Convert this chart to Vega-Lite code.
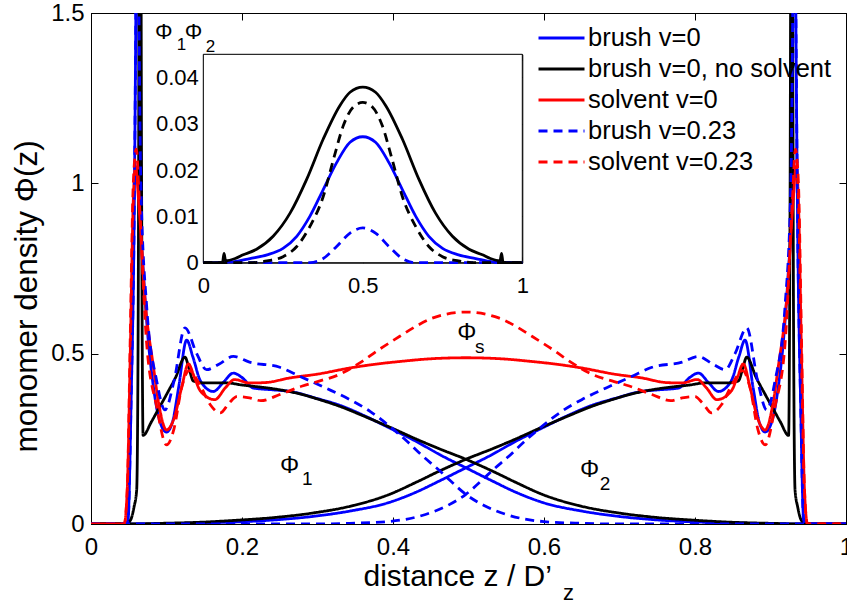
{
"$schema": "https://vega.github.io/schema/vega-lite/v6.json",
"width": 755, "height": 511,
"autosize": {"type": "none"},
"padding": {"left": 91, "top": 13, "right": 1, "bottom": 79},
"background": "white",
"datasets": {
"main": [
{"s":"brush v=0","p":"a","x":0,"y":0},{"s":"brush v=0","p":"a","x":0.046,"y":0},{"s":"brush v=0","p":"a","x":0.049,"y":0.01},{"s":"brush v=0","p":"a","x":0.053,"y":0.35},{"s":"brush v=0","p":"a","x":0.0574,"y":0.95},{"s":"brush v=0","p":"a","x":0.06,"y":1.7},{"s":"brush v=0","p":"a","x":0.0615,"y":2.3},{"s":"brush v=0","p":"a","x":0.063,"y":1.7},{"s":"brush v=0","p":"a","x":0.0649,"y":0.95},{"s":"brush v=0","p":"a","x":0.07,"y":0.72},{"s":"brush v=0","p":"a","x":0.075,"y":0.56},{"s":"brush v=0","p":"a","x":0.0826,"y":0.404},{"s":"brush v=0","p":"a","x":0.09,"y":0.31},{"s":"brush v=0","p":"a","x":0.1,"y":0.27},{"s":"brush v=0","p":"a","x":0.108,"y":0.3},{"s":"brush v=0","p":"a","x":0.116,"y":0.4},{"s":"brush v=0","p":"a","x":0.1267,"y":0.54},{"s":"brush v=0","p":"a","x":0.135,"y":0.49},{"s":"brush v=0","p":"a","x":0.145,"y":0.42},{"s":"brush v=0","p":"a","x":0.162,"y":0.389},{"s":"brush v=0","p":"a","x":0.175,"y":0.415},{"s":"brush v=0","p":"a","x":0.1885,"y":0.443},{"s":"brush v=0","p":"a","x":0.2,"y":0.43},{"s":"brush v=0","p":"a","x":0.215,"y":0.399},{"s":"brush v=0","p":"a","x":0.24,"y":0.394},{"s":"brush v=0","p":"a","x":0.2636,"y":0.389},{"s":"brush v=0","p":"a","x":0.3,"y":0.368},{"s":"brush v=0","p":"a","x":0.33,"y":0.348},{"s":"brush v=0","p":"a","x":0.36,"y":0.32},{"s":"brush v=0","p":"a","x":0.387,"y":0.291},{"s":"brush v=0","p":"a","x":0.431,"y":0.242},{"s":"brush v=0","p":"a","x":0.465,"y":0.2},{"s":"brush v=0","p":"a","x":0.4965,"y":0.165},{"s":"brush v=0","p":"a","x":0.53,"y":0.128},{"s":"brush v=0","p":"a","x":0.564,"y":0.092},{"s":"brush v=0","p":"a","x":0.6,"y":0.062},{"s":"brush v=0","p":"a","x":0.65,"y":0.038},{"s":"brush v=0","p":"a","x":0.7,"y":0.022},{"s":"brush v=0","p":"a","x":0.75,"y":0.012},{"s":"brush v=0","p":"a","x":0.8,"y":0.006},{"s":"brush v=0","p":"a","x":0.85,"y":0.003},{"s":"brush v=0","p":"a","x":0.9,"y":0.001},{"s":"brush v=0","p":"a","x":0.94,"y":0},{"s":"brush v=0","p":"a","x":1,"y":0},
{"s":"brush v=0","p":"b","x":0,"y":0},{"s":"brush v=0","p":"b","x":0.053,"y":0},{"s":"brush v=0","p":"b","x":0.093,"y":0.001},{"s":"brush v=0","p":"b","x":0.143,"y":0.003},{"s":"brush v=0","p":"b","x":0.193,"y":0.006},{"s":"brush v=0","p":"b","x":0.243,"y":0.012},{"s":"brush v=0","p":"b","x":0.293,"y":0.022},{"s":"brush v=0","p":"b","x":0.343,"y":0.038},{"s":"brush v=0","p":"b","x":0.393,"y":0.062},{"s":"brush v=0","p":"b","x":0.429,"y":0.092},{"s":"brush v=0","p":"b","x":0.463,"y":0.128},{"s":"brush v=0","p":"b","x":0.4965,"y":0.165},{"s":"brush v=0","p":"b","x":0.528,"y":0.2},{"s":"brush v=0","p":"b","x":0.562,"y":0.242},{"s":"brush v=0","p":"b","x":0.606,"y":0.291},{"s":"brush v=0","p":"b","x":0.633,"y":0.32},{"s":"brush v=0","p":"b","x":0.663,"y":0.348},{"s":"brush v=0","p":"b","x":0.693,"y":0.368},{"s":"brush v=0","p":"b","x":0.7294,"y":0.389},{"s":"brush v=0","p":"b","x":0.753,"y":0.394},{"s":"brush v=0","p":"b","x":0.778,"y":0.399},{"s":"brush v=0","p":"b","x":0.793,"y":0.43},{"s":"brush v=0","p":"b","x":0.8045,"y":0.443},{"s":"brush v=0","p":"b","x":0.818,"y":0.415},{"s":"brush v=0","p":"b","x":0.831,"y":0.389},{"s":"brush v=0","p":"b","x":0.848,"y":0.42},{"s":"brush v=0","p":"b","x":0.858,"y":0.49},{"s":"brush v=0","p":"b","x":0.8663,"y":0.54},{"s":"brush v=0","p":"b","x":0.877,"y":0.4},{"s":"brush v=0","p":"b","x":0.885,"y":0.3},{"s":"brush v=0","p":"b","x":0.893,"y":0.27},{"s":"brush v=0","p":"b","x":0.903,"y":0.31},{"s":"brush v=0","p":"b","x":0.9104,"y":0.404},{"s":"brush v=0","p":"b","x":0.918,"y":0.56},{"s":"brush v=0","p":"b","x":0.923,"y":0.72},{"s":"brush v=0","p":"b","x":0.9281,"y":0.95},{"s":"brush v=0","p":"b","x":0.93,"y":1.7},{"s":"brush v=0","p":"b","x":0.9315,"y":2.3},{"s":"brush v=0","p":"b","x":0.933,"y":1.7},{"s":"brush v=0","p":"b","x":0.9356,"y":0.95},{"s":"brush v=0","p":"b","x":0.94,"y":0.35},{"s":"brush v=0","p":"b","x":0.944,"y":0.01},{"s":"brush v=0","p":"b","x":0.947,"y":0},{"s":"brush v=0","p":"b","x":1,"y":0},
{"s":"brush v=0, no solvent","p":"a","x":0,"y":0},{"s":"brush v=0, no solvent","p":"a","x":0.046,"y":0},{"s":"brush v=0, no solvent","p":"a","x":0.052,"y":0.01},{"s":"brush v=0, no solvent","p":"a","x":0.057,"y":0.05},{"s":"brush v=0, no solvent","p":"a","x":0.0605,"y":0.1},{"s":"brush v=0, no solvent","p":"a","x":0.0625,"y":0.6},{"s":"brush v=0, no solvent","p":"a","x":0.064,"y":1.8},{"s":"brush v=0, no solvent","p":"a","x":0.0655,"y":2.2},{"s":"brush v=0, no solvent","p":"a","x":0.067,"y":1.0},{"s":"brush v=0, no solvent","p":"a","x":0.069,"y":0.26},{"s":"brush v=0, no solvent","p":"a","x":0.08,"y":0.3},{"s":"brush v=0, no solvent","p":"a","x":0.09,"y":0.34},{"s":"brush v=0, no solvent","p":"a","x":0.1,"y":0.38},{"s":"brush v=0, no solvent","p":"a","x":0.112,"y":0.43},{"s":"brush v=0, no solvent","p":"a","x":0.1245,"y":0.49},{"s":"brush v=0, no solvent","p":"a","x":0.13,"y":0.455},{"s":"brush v=0, no solvent","p":"a","x":0.1355,"y":0.42},{"s":"brush v=0, no solvent","p":"a","x":0.15,"y":0.414},{"s":"brush v=0, no solvent","p":"a","x":0.18,"y":0.414},{"s":"brush v=0, no solvent","p":"a","x":0.2,"y":0.408},{"s":"brush v=0, no solvent","p":"a","x":0.22,"y":0.403},{"s":"brush v=0, no solvent","p":"a","x":0.25,"y":0.394},{"s":"brush v=0, no solvent","p":"a","x":0.28,"y":0.38},{"s":"brush v=0, no solvent","p":"a","x":0.3,"y":0.367},{"s":"brush v=0, no solvent","p":"a","x":0.33,"y":0.345},{"s":"brush v=0, no solvent","p":"a","x":0.36,"y":0.318},{"s":"brush v=0, no solvent","p":"a","x":0.4,"y":0.28},{"s":"brush v=0, no solvent","p":"a","x":0.43,"y":0.25},{"s":"brush v=0, no solvent","p":"a","x":0.46,"y":0.222},{"s":"brush v=0, no solvent","p":"a","x":0.4965,"y":0.19},{"s":"brush v=0, no solvent","p":"a","x":0.53,"y":0.157},{"s":"brush v=0, no solvent","p":"a","x":0.56,"y":0.125},{"s":"brush v=0, no solvent","p":"a","x":0.6,"y":0.085},{"s":"brush v=0, no solvent","p":"a","x":0.65,"y":0.052},{"s":"brush v=0, no solvent","p":"a","x":0.7,"y":0.032},{"s":"brush v=0, no solvent","p":"a","x":0.75,"y":0.019},{"s":"brush v=0, no solvent","p":"a","x":0.8,"y":0.011},{"s":"brush v=0, no solvent","p":"a","x":0.85,"y":0.005},{"s":"brush v=0, no solvent","p":"a","x":0.9,"y":0.002},{"s":"brush v=0, no solvent","p":"a","x":0.94,"y":0},{"s":"brush v=0, no solvent","p":"a","x":1,"y":0},
{"s":"brush v=0, no solvent","p":"b","x":0,"y":0},{"s":"brush v=0, no solvent","p":"b","x":0.053,"y":0},{"s":"brush v=0, no solvent","p":"b","x":0.093,"y":0.002},{"s":"brush v=0, no solvent","p":"b","x":0.143,"y":0.005},{"s":"brush v=0, no solvent","p":"b","x":0.193,"y":0.011},{"s":"brush v=0, no solvent","p":"b","x":0.243,"y":0.019},{"s":"brush v=0, no solvent","p":"b","x":0.293,"y":0.032},{"s":"brush v=0, no solvent","p":"b","x":0.343,"y":0.052},{"s":"brush v=0, no solvent","p":"b","x":0.393,"y":0.085},{"s":"brush v=0, no solvent","p":"b","x":0.433,"y":0.125},{"s":"brush v=0, no solvent","p":"b","x":0.463,"y":0.157},{"s":"brush v=0, no solvent","p":"b","x":0.4965,"y":0.19},{"s":"brush v=0, no solvent","p":"b","x":0.533,"y":0.222},{"s":"brush v=0, no solvent","p":"b","x":0.563,"y":0.25},{"s":"brush v=0, no solvent","p":"b","x":0.593,"y":0.28},{"s":"brush v=0, no solvent","p":"b","x":0.633,"y":0.318},{"s":"brush v=0, no solvent","p":"b","x":0.663,"y":0.345},{"s":"brush v=0, no solvent","p":"b","x":0.693,"y":0.367},{"s":"brush v=0, no solvent","p":"b","x":0.713,"y":0.38},{"s":"brush v=0, no solvent","p":"b","x":0.743,"y":0.394},{"s":"brush v=0, no solvent","p":"b","x":0.773,"y":0.403},{"s":"brush v=0, no solvent","p":"b","x":0.793,"y":0.408},{"s":"brush v=0, no solvent","p":"b","x":0.813,"y":0.414},{"s":"brush v=0, no solvent","p":"b","x":0.843,"y":0.414},{"s":"brush v=0, no solvent","p":"b","x":0.8575,"y":0.42},{"s":"brush v=0, no solvent","p":"b","x":0.863,"y":0.455},{"s":"brush v=0, no solvent","p":"b","x":0.8685,"y":0.49},{"s":"brush v=0, no solvent","p":"b","x":0.881,"y":0.43},{"s":"brush v=0, no solvent","p":"b","x":0.893,"y":0.38},{"s":"brush v=0, no solvent","p":"b","x":0.903,"y":0.34},{"s":"brush v=0, no solvent","p":"b","x":0.913,"y":0.3},{"s":"brush v=0, no solvent","p":"b","x":0.924,"y":0.26},{"s":"brush v=0, no solvent","p":"b","x":0.926,"y":1.0},{"s":"brush v=0, no solvent","p":"b","x":0.9275,"y":2.2},{"s":"brush v=0, no solvent","p":"b","x":0.929,"y":1.8},{"s":"brush v=0, no solvent","p":"b","x":0.9305,"y":0.6},{"s":"brush v=0, no solvent","p":"b","x":0.9325,"y":0.1},{"s":"brush v=0, no solvent","p":"b","x":0.936,"y":0.05},{"s":"brush v=0, no solvent","p":"b","x":0.941,"y":0.01},{"s":"brush v=0, no solvent","p":"b","x":0.947,"y":0},{"s":"brush v=0, no solvent","p":"b","x":1,"y":0},
{"s":"solvent v=0","p":"s","x":0,"y":0},{"s":"solvent v=0","p":"s","x":0.044,"y":0},{"s":"solvent v=0","p":"s","x":0.048,"y":0.1},{"s":"solvent v=0","p":"s","x":0.052,"y":0.5},{"s":"solvent v=0","p":"s","x":0.056,"y":0.95},{"s":"solvent v=0","p":"s","x":0.059,"y":1.05},{"s":"solvent v=0","p":"s","x":0.063,"y":0.95},{"s":"solvent v=0","p":"s","x":0.0715,"y":0.66},{"s":"solvent v=0","p":"s","x":0.0826,"y":0.463},{"s":"solvent v=0","p":"s","x":0.09,"y":0.35},{"s":"solvent v=0","p":"s","x":0.1,"y":0.276},{"s":"solvent v=0","p":"s","x":0.11,"y":0.31},{"s":"solvent v=0","p":"s","x":0.12,"y":0.4},{"s":"solvent v=0","p":"s","x":0.129,"y":0.47},{"s":"solvent v=0","p":"s","x":0.137,"y":0.43},{"s":"solvent v=0","p":"s","x":0.145,"y":0.39},{"s":"solvent v=0","p":"s","x":0.164,"y":0.365},{"s":"solvent v=0","p":"s","x":0.178,"y":0.4},{"s":"solvent v=0","p":"s","x":0.19,"y":0.424},{"s":"solvent v=0","p":"s","x":0.21,"y":0.414},{"s":"solvent v=0","p":"s","x":0.23,"y":0.415},{"s":"solvent v=0","p":"s","x":0.264,"y":0.429},{"s":"solvent v=0","p":"s","x":0.3,"y":0.44},{"s":"solvent v=0","p":"s","x":0.343,"y":0.458},{"s":"solvent v=0","p":"s","x":0.38,"y":0.47},{"s":"solvent v=0","p":"s","x":0.409,"y":0.477},{"s":"solvent v=0","p":"s","x":0.45,"y":0.485},{"s":"solvent v=0","p":"s","x":0.4965,"y":0.488},{"s":"solvent v=0","p":"s","x":0.543,"y":0.485},{"s":"solvent v=0","p":"s","x":0.584,"y":0.477},{"s":"solvent v=0","p":"s","x":0.613,"y":0.47},{"s":"solvent v=0","p":"s","x":0.65,"y":0.458},{"s":"solvent v=0","p":"s","x":0.693,"y":0.44},{"s":"solvent v=0","p":"s","x":0.729,"y":0.429},{"s":"solvent v=0","p":"s","x":0.763,"y":0.415},{"s":"solvent v=0","p":"s","x":0.783,"y":0.414},{"s":"solvent v=0","p":"s","x":0.803,"y":0.424},{"s":"solvent v=0","p":"s","x":0.815,"y":0.4},{"s":"solvent v=0","p":"s","x":0.829,"y":0.365},{"s":"solvent v=0","p":"s","x":0.848,"y":0.39},{"s":"solvent v=0","p":"s","x":0.856,"y":0.43},{"s":"solvent v=0","p":"s","x":0.864,"y":0.47},{"s":"solvent v=0","p":"s","x":0.873,"y":0.4},{"s":"solvent v=0","p":"s","x":0.883,"y":0.31},{"s":"solvent v=0","p":"s","x":0.893,"y":0.276},{"s":"solvent v=0","p":"s","x":0.903,"y":0.35},{"s":"solvent v=0","p":"s","x":0.9104,"y":0.463},{"s":"solvent v=0","p":"s","x":0.9215,"y":0.66},{"s":"solvent v=0","p":"s","x":0.93,"y":0.95},{"s":"solvent v=0","p":"s","x":0.934,"y":1.05},{"s":"solvent v=0","p":"s","x":0.937,"y":0.95},{"s":"solvent v=0","p":"s","x":0.941,"y":0.5},{"s":"solvent v=0","p":"s","x":0.945,"y":0.1},{"s":"solvent v=0","p":"s","x":0.949,"y":0},{"s":"solvent v=0","p":"s","x":1,"y":0},
{"s":"brush v=0.23","p":"a","x":0,"y":0},{"s":"brush v=0.23","p":"a","x":0.046,"y":0},{"s":"brush v=0.23","p":"a","x":0.049,"y":0.01},{"s":"brush v=0.23","p":"a","x":0.053,"y":0.35},{"s":"brush v=0.23","p":"a","x":0.0574,"y":0.95},{"s":"brush v=0.23","p":"a","x":0.06,"y":1.7},{"s":"brush v=0.23","p":"a","x":0.0615,"y":2.3},{"s":"brush v=0.23","p":"a","x":0.063,"y":1.7},{"s":"brush v=0.23","p":"a","x":0.066,"y":1.0},{"s":"brush v=0.23","p":"a","x":0.0737,"y":0.64},{"s":"brush v=0.23","p":"a","x":0.087,"y":0.42},{"s":"brush v=0.23","p":"a","x":0.098,"y":0.335},{"s":"brush v=0.23","p":"a","x":0.11,"y":0.42},{"s":"brush v=0.23","p":"a","x":0.1245,"y":0.576},{"s":"brush v=0.23","p":"a","x":0.14,"y":0.5},{"s":"brush v=0.23","p":"a","x":0.153,"y":0.453},{"s":"brush v=0.23","p":"a","x":0.17,"y":0.47},{"s":"brush v=0.23","p":"a","x":0.1885,"y":0.492},{"s":"brush v=0.23","p":"a","x":0.21,"y":0.475},{"s":"brush v=0.23","p":"a","x":0.25,"y":0.46},{"s":"brush v=0.23","p":"a","x":0.277,"y":0.433},{"s":"brush v=0.23","p":"a","x":0.31,"y":0.4},{"s":"brush v=0.23","p":"a","x":0.343,"y":0.365},{"s":"brush v=0.23","p":"a","x":0.37,"y":0.33},{"s":"brush v=0.23","p":"a","x":0.396,"y":0.286},{"s":"brush v=0.23","p":"a","x":0.42,"y":0.24},{"s":"brush v=0.23","p":"a","x":0.44,"y":0.198},{"s":"brush v=0.23","p":"a","x":0.46,"y":0.16},{"s":"brush v=0.23","p":"a","x":0.475,"y":0.129},{"s":"brush v=0.23","p":"a","x":0.4965,"y":0.087},{"s":"brush v=0.23","p":"a","x":0.52,"y":0.055},{"s":"brush v=0.23","p":"a","x":0.55,"y":0.028},{"s":"brush v=0.23","p":"a","x":0.6,"y":0.007},{"s":"brush v=0.23","p":"a","x":0.65,"y":0.002},{"s":"brush v=0.23","p":"a","x":0.7,"y":0},{"s":"brush v=0.23","p":"a","x":1,"y":0},
{"s":"brush v=0.23","p":"b","x":0,"y":0},{"s":"brush v=0.23","p":"b","x":0.293,"y":0},{"s":"brush v=0.23","p":"b","x":0.343,"y":0.002},{"s":"brush v=0.23","p":"b","x":0.393,"y":0.007},{"s":"brush v=0.23","p":"b","x":0.443,"y":0.028},{"s":"brush v=0.23","p":"b","x":0.473,"y":0.055},{"s":"brush v=0.23","p":"b","x":0.4965,"y":0.087},{"s":"brush v=0.23","p":"b","x":0.518,"y":0.129},{"s":"brush v=0.23","p":"b","x":0.533,"y":0.16},{"s":"brush v=0.23","p":"b","x":0.553,"y":0.198},{"s":"brush v=0.23","p":"b","x":0.573,"y":0.24},{"s":"brush v=0.23","p":"b","x":0.597,"y":0.286},{"s":"brush v=0.23","p":"b","x":0.623,"y":0.33},{"s":"brush v=0.23","p":"b","x":0.65,"y":0.365},{"s":"brush v=0.23","p":"b","x":0.683,"y":0.4},{"s":"brush v=0.23","p":"b","x":0.716,"y":0.433},{"s":"brush v=0.23","p":"b","x":0.743,"y":0.46},{"s":"brush v=0.23","p":"b","x":0.783,"y":0.475},{"s":"brush v=0.23","p":"b","x":0.8045,"y":0.492},{"s":"brush v=0.23","p":"b","x":0.823,"y":0.47},{"s":"brush v=0.23","p":"b","x":0.84,"y":0.453},{"s":"brush v=0.23","p":"b","x":0.853,"y":0.5},{"s":"brush v=0.23","p":"b","x":0.8685,"y":0.576},{"s":"brush v=0.23","p":"b","x":0.883,"y":0.42},{"s":"brush v=0.23","p":"b","x":0.895,"y":0.335},{"s":"brush v=0.23","p":"b","x":0.906,"y":0.42},{"s":"brush v=0.23","p":"b","x":0.9193,"y":0.64},{"s":"brush v=0.23","p":"b","x":0.927,"y":1.0},{"s":"brush v=0.23","p":"b","x":0.93,"y":1.7},{"s":"brush v=0.23","p":"b","x":0.9315,"y":2.3},{"s":"brush v=0.23","p":"b","x":0.933,"y":1.7},{"s":"brush v=0.23","p":"b","x":0.9356,"y":0.95},{"s":"brush v=0.23","p":"b","x":0.94,"y":0.35},{"s":"brush v=0.23","p":"b","x":0.944,"y":0.01},{"s":"brush v=0.23","p":"b","x":0.947,"y":0},{"s":"brush v=0.23","p":"b","x":1,"y":0},
{"s":"solvent v=0.23","p":"s","x":0,"y":0},{"s":"solvent v=0.23","p":"s","x":0.044,"y":0},{"s":"solvent v=0.23","p":"s","x":0.048,"y":0.1},{"s":"solvent v=0.23","p":"s","x":0.052,"y":0.55},{"s":"solvent v=0.23","p":"s","x":0.056,"y":1.0},{"s":"solvent v=0.23","p":"s","x":0.06,"y":1.1},{"s":"solvent v=0.23","p":"s","x":0.064,"y":0.95},{"s":"solvent v=0.23","p":"s","x":0.0737,"y":0.53},{"s":"solvent v=0.23","p":"s","x":0.087,"y":0.345},{"s":"solvent v=0.23","p":"s","x":0.1,"y":0.232},{"s":"solvent v=0.23","p":"s","x":0.11,"y":0.28},{"s":"solvent v=0.23","p":"s","x":0.12,"y":0.4},{"s":"solvent v=0.23","p":"s","x":0.13,"y":0.45},{"s":"solvent v=0.23","p":"s","x":0.145,"y":0.405},{"s":"solvent v=0.23","p":"s","x":0.158,"y":0.35},{"s":"solvent v=0.23","p":"s","x":0.171,"y":0.326},{"s":"solvent v=0.23","p":"s","x":0.183,"y":0.355},{"s":"solvent v=0.23","p":"s","x":0.193,"y":0.374},{"s":"solvent v=0.23","p":"s","x":0.21,"y":0.37},{"s":"solvent v=0.23","p":"s","x":0.225,"y":0.362},{"s":"solvent v=0.23","p":"s","x":0.25,"y":0.38},{"s":"solvent v=0.23","p":"s","x":0.28,"y":0.405},{"s":"solvent v=0.23","p":"s","x":0.3,"y":0.418},{"s":"solvent v=0.23","p":"s","x":0.33,"y":0.44},{"s":"solvent v=0.23","p":"s","x":0.356,"y":0.473},{"s":"solvent v=0.23","p":"s","x":0.38,"y":0.51},{"s":"solvent v=0.23","p":"s","x":0.409,"y":0.551},{"s":"solvent v=0.23","p":"s","x":0.43,"y":0.58},{"s":"solvent v=0.23","p":"s","x":0.453,"y":0.605},{"s":"solvent v=0.23","p":"s","x":0.4965,"y":0.622},{"s":"solvent v=0.23","p":"s","x":0.54,"y":0.605},{"s":"solvent v=0.23","p":"s","x":0.563,"y":0.58},{"s":"solvent v=0.23","p":"s","x":0.584,"y":0.551},{"s":"solvent v=0.23","p":"s","x":0.613,"y":0.51},{"s":"solvent v=0.23","p":"s","x":0.637,"y":0.473},{"s":"solvent v=0.23","p":"s","x":0.663,"y":0.44},{"s":"solvent v=0.23","p":"s","x":0.693,"y":0.418},{"s":"solvent v=0.23","p":"s","x":0.713,"y":0.405},{"s":"solvent v=0.23","p":"s","x":0.743,"y":0.38},{"s":"solvent v=0.23","p":"s","x":0.768,"y":0.362},{"s":"solvent v=0.23","p":"s","x":0.783,"y":0.37},{"s":"solvent v=0.23","p":"s","x":0.8,"y":0.374},{"s":"solvent v=0.23","p":"s","x":0.81,"y":0.355},{"s":"solvent v=0.23","p":"s","x":0.822,"y":0.326},{"s":"solvent v=0.23","p":"s","x":0.835,"y":0.35},{"s":"solvent v=0.23","p":"s","x":0.848,"y":0.405},{"s":"solvent v=0.23","p":"s","x":0.863,"y":0.45},{"s":"solvent v=0.23","p":"s","x":0.873,"y":0.4},{"s":"solvent v=0.23","p":"s","x":0.883,"y":0.28},{"s":"solvent v=0.23","p":"s","x":0.893,"y":0.232},{"s":"solvent v=0.23","p":"s","x":0.906,"y":0.345},{"s":"solvent v=0.23","p":"s","x":0.9193,"y":0.53},{"s":"solvent v=0.23","p":"s","x":0.929,"y":0.95},{"s":"solvent v=0.23","p":"s","x":0.933,"y":1.1},{"s":"solvent v=0.23","p":"s","x":0.937,"y":1.0},{"s":"solvent v=0.23","p":"s","x":0.941,"y":0.55},{"s":"solvent v=0.23","p":"s","x":0.945,"y":0.1},{"s":"solvent v=0.23","p":"s","x":0.949,"y":0},{"s":"solvent v=0.23","p":"s","x":1,"y":0}
],
"inset": [
{"c":"ns","x":0,"y":0},{"c":"ns","x":0.06,"y":0},{"c":"ns","x":0.065,"y":0.002},{"c":"ns","x":0.07,"y":0.0004},{"c":"ns","x":0.1,"y":0.0009},{"c":"ns","x":0.125,"y":0.0017},{"c":"ns","x":0.167,"y":0.0029},{"c":"ns","x":0.219,"y":0.0057},{"c":"ns","x":0.272,"y":0.0107},{"c":"ns","x":0.324,"y":0.018},{"c":"ns","x":0.376,"y":0.0267},{"c":"ns","x":0.428,"y":0.0339},{"c":"ns","x":0.46,"y":0.0368},{"c":"ns","x":0.5,"y":0.0379},{"c":"ns","x":0.54,"y":0.0368},{"c":"ns","x":0.572,"y":0.0339},{"c":"ns","x":0.624,"y":0.0267},{"c":"ns","x":0.676,"y":0.018},{"c":"ns","x":0.728,"y":0.0107},{"c":"ns","x":0.781,"y":0.0057},{"c":"ns","x":0.833,"y":0.0029},{"c":"ns","x":0.875,"y":0.0017},{"c":"ns","x":0.9,"y":0.0009},{"c":"ns","x":0.93,"y":0.0004},{"c":"ns","x":0.935,"y":0.002},{"c":"ns","x":0.94,"y":0},{"c":"ns","x":1,"y":0},
{"c":"nd","x":0,"y":0},{"c":"nd","x":0.146,"y":0},{"c":"nd","x":0.2,"y":0.0004},{"c":"nd","x":0.25,"y":0.0013},{"c":"nd","x":0.293,"y":0.0035},{"c":"nd","x":0.334,"y":0.0078},{"c":"nd","x":0.376,"y":0.0143},{"c":"nd","x":0.408,"y":0.0223},{"c":"nd","x":0.439,"y":0.0296},{"c":"nd","x":0.47,"y":0.0336},{"c":"nd","x":0.5,"y":0.0346},{"c":"nd","x":0.53,"y":0.0336},{"c":"nd","x":0.561,"y":0.0296},{"c":"nd","x":0.592,"y":0.0223},{"c":"nd","x":0.624,"y":0.0143},{"c":"nd","x":0.666,"y":0.0078},{"c":"nd","x":0.707,"y":0.0035},{"c":"nd","x":0.75,"y":0.0013},{"c":"nd","x":0.8,"y":0.0004},{"c":"nd","x":0.854,"y":0},{"c":"nd","x":1,"y":0},
{"c":"bs","x":0,"y":0},{"c":"bs","x":0.094,"y":0.0002},{"c":"bs","x":0.146,"y":0.0009},{"c":"bs","x":0.2,"y":0.0017},{"c":"bs","x":0.25,"y":0.0031},{"c":"bs","x":0.293,"y":0.0057},{"c":"bs","x":0.334,"y":0.01},{"c":"bs","x":0.376,"y":0.0158},{"c":"bs","x":0.418,"y":0.0216},{"c":"bs","x":0.46,"y":0.026},{"c":"bs","x":0.5,"y":0.0272},{"c":"bs","x":0.54,"y":0.026},{"c":"bs","x":0.582,"y":0.0216},{"c":"bs","x":0.624,"y":0.0158},{"c":"bs","x":0.666,"y":0.01},{"c":"bs","x":0.707,"y":0.0057},{"c":"bs","x":0.75,"y":0.0031},{"c":"bs","x":0.8,"y":0.0017},{"c":"bs","x":0.854,"y":0.0009},{"c":"bs","x":0.906,"y":0.0002},{"c":"bs","x":1,"y":0},
{"c":"bd","x":0,"y":0},{"c":"bd","x":0.334,"y":0},{"c":"bd","x":0.376,"y":0.0009},{"c":"bd","x":0.418,"y":0.0035},{"c":"bd","x":0.46,"y":0.0064},{"c":"bd","x":0.5,"y":0.0075},{"c":"bd","x":0.54,"y":0.0064},{"c":"bd","x":0.582,"y":0.0035},{"c":"bd","x":0.624,"y":0.0009},{"c":"bd","x":0.666,"y":0},{"c":"bd","x":1,"y":0}
]
},
"layer": [
{
"layer": [
{
"data": {"name": "main"},
"mark": {"type": "line", "clip": true, "strokeWidth": 2.8, "interpolate": "monotone"},
"encoding": {
"x": {"field": "x", "type": "quantitative", "scale": {"domain": [0, 1], "nice": false, "zero": false},
"axis": {"orient": "bottom", "values": [0, 0.2, 0.4, 0.6, 0.8, 1], "labelExpr": "format(datum.value, '~g')", "tickSize": -7, "labelPadding": 18, "labelFontSize": 24, "title": "distance z / D’", "titleFontSize": 30, "titleX": 272, "titleY": 61, "titleAlign": "left", "titleBaseline": "alphabetic"}},
"y": {"field": "y", "type": "quantitative", "scale": {"domain": [0, 1.5], "nice": false},
"axis": {"orient": "left", "values": [0, 0.5, 1, 1.5], "labelExpr": "format(datum.value, '~g')", "tickSize": -7, "labelPadding": 14, "labelFontSize": 24, "title": "monomer density Φ(z)", "titleFontSize": 31.5, "titleAngle": 270, "titleX": -55, "titleY": 439, "titleAlign": "left", "titleBaseline": "alphabetic"}},
"color": {"field": "s", "type": "nominal", "scale": {"domain": ["brush v=0", "brush v=0, no solvent", "solvent v=0", "brush v=0.23", "solvent v=0.23"], "range": ["#0000ff", "#000000", "#ff0000", "#0000ff", "#ff0000"]}, "legend": {"title": null}},
"strokeDash": {"field": "s", "type": "nominal", "scale": {"domain": ["brush v=0", "brush v=0, no solvent", "solvent v=0", "brush v=0.23", "solvent v=0.23"], "range": [[1, 0], [1, 0], [1, 0], [9, 6], [9, 6]]}, "legend": {"title": null}},
"detail": {"field": "p"}
}
},
{"data": {"values": [{}]}, "mark": {"type": "text", "text": "Φ", "align": "left", "baseline": "alphabetic", "font": "Liberation Sans", "fontSize": 24}, "encoding": {"x": {"datum": 0.2503}, "y": {"datum": 0.15}}},
{"data": {"values": [{}]}, "mark": {"type": "text", "text": "1", "align": "left", "baseline": "alphabetic", "font": "Liberation Sans", "fontSize": 19}, "encoding": {"x": {"datum": 0.2795}, "y": {"datum": 0.1147}}},
{"data": {"values": [{}]}, "mark": {"type": "text", "text": "Φ", "align": "left", "baseline": "alphabetic", "font": "Liberation Sans", "fontSize": 24}, "encoding": {"x": {"datum": 0.6477}, "y": {"datum": 0.139}}},
{"data": {"values": [{}]}, "mark": {"type": "text", "text": "2", "align": "left", "baseline": "alphabetic", "font": "Liberation Sans", "fontSize": 19}, "encoding": {"x": {"datum": 0.674}, "y": {"datum": 0.1}}},
{"data": {"values": [{}]}, "mark": {"type": "text", "text": "Φ", "align": "left", "baseline": "alphabetic", "font": "Liberation Sans", "fontSize": 24}, "encoding": {"x": {"datum": 0.4852}, "y": {"datum": 0.539}}},
{"data": {"values": [{}]}, "mark": {"type": "text", "text": "s", "align": "left", "baseline": "alphabetic", "font": "Liberation Sans", "fontSize": 19}, "encoding": {"x": {"datum": 0.5086}, "y": {"datum": 0.502}}},
{"data": {"values": [{}]}, "mark": {"type": "text", "text": "z", "align": "left", "baseline": "alphabetic", "font": "Liberation Sans", "fontSize": 22}, "encoding": {"x": {"datum": 0.6252}, "y": {"datum": -0.2235}}}
]
},
{
"data": {"values": [{}]},
"mark": {"type": "point", "opacity": 0},
"encoding": {
"x": {"datum": 0, "type": "quantitative", "scale": {"domain": [0, 1], "nice": false, "zero": false}, "axis": {"orient": "top", "values": [0, 0.2, 0.4, 0.6, 0.8, 1], "labels": false, "tickSize": -7, "title": null}},
"y": {"datum": 0, "type": "quantitative", "scale": {"domain": [0, 1.5], "nice": false}, "axis": {"orient": "right", "values": [0, 0.5, 1, 1.5], "labels": false, "tickSize": -7, "title": null}}
}
},
{
"layer": [
{
"data": {"values": [{}]},
"mark": {"type": "rect", "fill": "white", "stroke": "black", "strokeWidth": 1},
"encoding": {
"x": {"datum": 0, "type": "quantitative", "scale": {"domain": [0, 1], "range": [112.3, 431.3], "nice": false, "zero": false},
"axis": {"orient": "bottom", "offset": -261.3, "values": [0, 0.5, 1], "labelExpr": "format(datum.value, '~g')", "tickSize": -6, "labelPadding": 18.7, "labelFontSize": 22, "title": null}},
"x2": {"datum": 1},
"y": {"datum": 0, "type": "quantitative", "scale": {"domain": [0, 0.045], "range": [249.7, 41.3], "nice": false},
"axis": {"orient": "left", "offset": -112.3, "values": [0, 0.01, 0.02, 0.03, 0.04], "labelExpr": "format(datum.value, '~g')", "tickSize": -6, "labelPadding": 11, "labelFontSize": 22, "title": null}},
"y2": {"datum": 0.045}
}
},
{"data": {"name": "inset"}, "transform": [{"filter": "datum.c == 'bs'"}], "mark": {"type": "line", "stroke": "#0000ff", "strokeWidth": 2.8, "interpolate": "monotone"}, "encoding": {"x": {"field": "x", "type": "quantitative"}, "y": {"field": "y", "type": "quantitative"}}},
{"data": {"name": "inset"}, "transform": [{"filter": "datum.c == 'bd'"}], "mark": {"type": "line", "stroke": "#0000ff", "strokeWidth": 2.8, "strokeDash": [9, 6], "interpolate": "monotone"}, "encoding": {"x": {"field": "x", "type": "quantitative"}, "y": {"field": "y", "type": "quantitative"}}},
{"data": {"name": "inset"}, "transform": [{"filter": "datum.c == 'ns'"}], "mark": {"type": "line", "stroke": "#000000", "strokeWidth": 2.8, "interpolate": "monotone"}, "encoding": {"x": {"field": "x", "type": "quantitative"}, "y": {"field": "y", "type": "quantitative"}}},
{"data": {"name": "inset"}, "transform": [{"filter": "datum.c == 'nd'"}], "mark": {"type": "line", "stroke": "#000000", "strokeWidth": 2.8, "strokeDash": [9, 6], "interpolate": "monotone"}, "encoding": {"x": {"field": "x", "type": "quantitative"}, "y": {"field": "y", "type": "quantitative"}}},
{"data": {"values": [{}]}, "mark": {"type": "text", "text": "Φ", "align": "left", "baseline": "alphabetic", "font": "Liberation Sans", "fontSize": 22}, "encoding": {"x": {"datum": -0.1514}, "y": {"datum": 0.04841}}},
{"data": {"values": [{}]}, "mark": {"type": "text", "text": "1", "align": "left", "baseline": "alphabetic", "font": "Liberation Sans", "fontSize": 17}, "encoding": {"x": {"datum": -0.0834}, "y": {"datum": 0.04587}}},
{"data": {"values": [{}]}, "mark": {"type": "text", "text": "Φ", "align": "left", "baseline": "alphabetic", "font": "Liberation Sans", "fontSize": 22}, "encoding": {"x": {"datum": -0.058}, "y": {"datum": 0.04841}}},
{"data": {"values": [{}]}, "mark": {"type": "text", "text": "2", "align": "left", "baseline": "alphabetic", "font": "Liberation Sans", "fontSize": 17}, "encoding": {"x": {"datum": 0.008}, "y": {"datum": 0.04552}}}
]
},
{
"data": {"values": [{}]},
"mark": {"type": "point", "opacity": 0},
"encoding": {
"x": {"datum": 0, "type": "quantitative", "scale": {"domain": [0, 1], "range": [112.3, 431.3], "nice": false, "zero": false}, "axis": {"orient": "top", "offset": -41.3, "values": [0, 0.5, 1], "labels": false, "tickSize": -6, "title": null}},
"y": {"datum": 0, "type": "quantitative", "scale": {"domain": [0, 0.045], "range": [249.7, 41.3], "nice": false}, "axis": {"orient": "right", "offset": -323.7, "values": [0, 0.01, 0.02, 0.03, 0.04], "labels": false, "tickSize": -6, "title": null}}
}
}
],
"resolve": {"scale": {"x": "independent", "y": "independent"}},
"config": {
"view": {"stroke": "black", "strokeWidth": 1},
"axis": {"labelFont": "Liberation Sans", "titleFont": "Liberation Sans", "labelColor": "black", "titleColor": "black", "domainColor": "black", "tickColor": "black", "grid": false, "labelFlush": false, "labelOverlap": false, "titleFontWeight": "normal", "zindex": 1, "domainWidth": 1, "tickWidth": 1},
"legend": {"orient": "none", "legendX": 457.5, "legendY": 12, "labelFont": "Liberation Sans", "labelFontSize": 25.5, "labelColor": "black", "symbolType": "M-2,0H2", "symbolSize": 529, "symbolStrokeWidth": 3, "labelOffset": 13.5, "rowPadding": 4, "padding": 0, "labelLimit": 0}
}
}
